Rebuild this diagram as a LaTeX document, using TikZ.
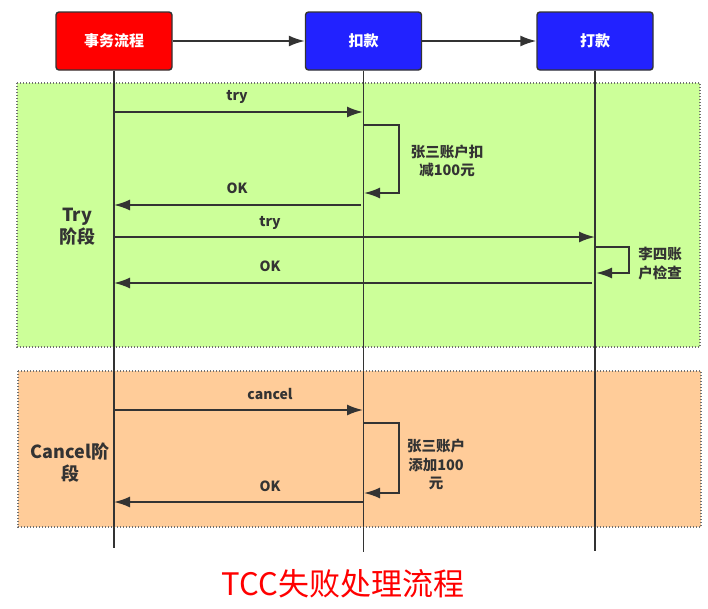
\documentclass[tikz,border=0pt]{standalone}
\usepackage{fontspec}
\setmainfont{Noto Sans CJK SC}
\usetikzlibrary{arrows.meta}
\definecolor{ink}{HTML}{333333}
\definecolor{tryfill}{HTML}{CCFF99}
\definecolor{canfill}{HTML}{FFCC99}
\definecolor{boxblue}{HTML}{2222FF}
\definecolor{boxred}{HTML}{FF0000}
\definecolor{frame}{HTML}{707070}
\tikzset{
  actor/.style={draw=ink, line width=1.4pt, rounded corners=3pt, minimum width=116pt, minimum height=58pt, text=white, font=\bfseries\fontsize{15}{17}\selectfont},
  redbox/.style={actor, fill=boxred},
  bluebox/.style={actor, fill=boxblue},
  region/.style={draw=frame, line width=1.4pt, dash pattern=on 1.4pt off 1.6pt},
  msg/.style={draw=ink, line width=1.8pt, -{Latex[length=16pt,width=11pt]}},
  life/.style={draw=ink, line width=1.8pt},
  lbl/.style={text=ink, font=\bfseries\fontsize{14}{16}\selectfont, inner sep=0pt},
  note/.style={text=ink, font=\bfseries\fontsize{14.5}{18.5}\selectfont, align=center, inner sep=0pt},
  phase/.style={text=ink, font=\bfseries\fontsize{18}{22}\selectfont, align=center, inner sep=0pt},
}
\begin{document}
\begin{tikzpicture}[x=1pt,y=-1pt]
\useasboundingbox (0,0) rectangle (708,608);
\fill[white] (0,0) rectangle (708,608);
% regions
\draw[region, fill=tryfill] (17,83) rectangle (700,347);
\draw[region, fill=canfill] (18,371) rectangle (701,527);
% actors
\node[redbox] (a) at (114,41) {事务流程};
\node[bluebox] (b) at (363.5,41) {扣款};
\node[bluebox] (c) at (595,41) {打款};
\draw[msg] (a) -- (b);
\draw[msg] (b) -- (c);
% lifelines
\coordinate (ae) at (114,548);
\coordinate (be) at (363.5,552);
\coordinate (ce) at (595,551);
\draw[life] (a.south) -- (ae);
\draw[life] (b.south) -- (be);
\draw[life] (c.south) -- (ce);
% phase labels
\node[phase] (tp) at (77,227) {Try\\阶段};
\node[phase] (cp) at (70,463) {Cancel阶\\段};
% try phase
\coordinate (m1a) at (114,112); \coordinate (m1b) at (363,112);
\draw[msg] (m1a) -- (m1b);
\node[lbl] (l1) at (237,97) {try};
\coordinate (s1a) at (364,125); \coordinate (s1b) at (364,193);
\draw[msg] (s1a) -- ++(35,0) |- (s1b);
\node[note] (n1) at (447,161) {张三账户扣\\减100元};
\coordinate (m2a) at (361,205); \coordinate (m2b) at (114,205);
\draw[msg] (m2a) -- (m2b);
\node[lbl] (l2) at (237,188) {OK};
\coordinate (m3a) at (114,237); \coordinate (m3b) at (595,237);
\draw[msg] (m3a) -- (m3b);
\node[lbl] (l3) at (270,223) {try};
\coordinate (s2a) at (596,247); \coordinate (s2b) at (596,273);
\draw[msg] (s2a) -- ++(33,0) |- (s2b);
\node[note] (n2) at (660,263.5) {李四账\\户检查};
\coordinate (m4a) at (592,283); \coordinate (m4b) at (114,283);
\draw[msg] (m4a) -- (m4b);
\node[lbl] (l4) at (270,266) {OK};
% cancel phase
\coordinate (m5a) at (114,410); \coordinate (m5b) at (363,410);
\draw[msg] (m5a) -- (m5b);
\node[lbl] (l5) at (270,394) {cancel};
\coordinate (s3a) at (364,423); \coordinate (s3b) at (364,493);
\draw[msg] (s3a) -- ++(35,0) |- (s3b);
\node[note] (n3) at (436,464.5) {张三账户\\添加100\\元};
\coordinate (m6a) at (363,502); \coordinate (m6b) at (114,502);
\draw[msg] (m6a) -- (m6b);
\node[lbl] (l6) at (270,486) {OK};
% title
\node[text=boxred, font=\fontsize{31}{34}\selectfont, inner sep=0pt] (title) at (343,584) {TCC失败处理流程};
\end{tikzpicture}
\end{document}
